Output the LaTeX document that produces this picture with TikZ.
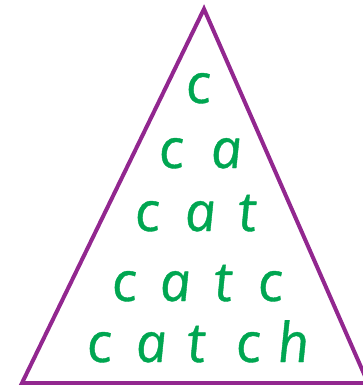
\documentclass[tikz,border=0pt]{standalone}
\usepackage{fontspec}
\setmainfont{Open Sans}[ItalicFeatures={FakeBold=0.7}]
\definecolor{tripurple}{RGB}{146,39,143}
\definecolor{letgreen}{RGB}{0,166,81}
\begin{document}
\begin{tikzpicture}[x=1pt,y=-1pt,
  letter/.style={anchor=base,inner sep=0pt,xslant=-0.11,text=letgreen,font=\fontsize{55}{60}\selectfont\itshape}]
\useasboundingbox (0,0) rectangle (363,385);
\clip (0,0) rectangle (363,385);
\coordinate (apex) at (204,9);
\coordinate (bl) at (22,383);
\coordinate (br) at (368,383);
\draw[tripurple,line width=4pt,line join=miter] (apex) -- (bl) -- (br) -- cycle;
% row 1
\node[letter] (r1c) at (200,103) {c};
% row 2
\node[letter] (r2c) at (173,168) {c};
\node[letter] (r2a) at (228,168) {a};
% row 3
\node[letter] (r3c) at (149,231) {c};
\node[letter] (r3a) at (202,231) {a};
\node[letter] (r3t) at (249,231) {t};
% row 4
\node[letter] (r4c) at (126,301) {c};
\node[letter] (r4a) at (177,301) {a};
\node[letter] (r4t) at (225,301) {t};
\node[letter] (r4c2) at (272,301) {c};
% row 5
\node[letter] (r5c) at (101,362) {c};
\node[letter] (r5a) at (153,362) {a};
\node[letter] (r5t) at (198,362) {t};
\node[letter] (r5c2) at (250,362) {c};
\node[letter] (r5h) at (295,362) {h};
\end{tikzpicture}
\end{document}
